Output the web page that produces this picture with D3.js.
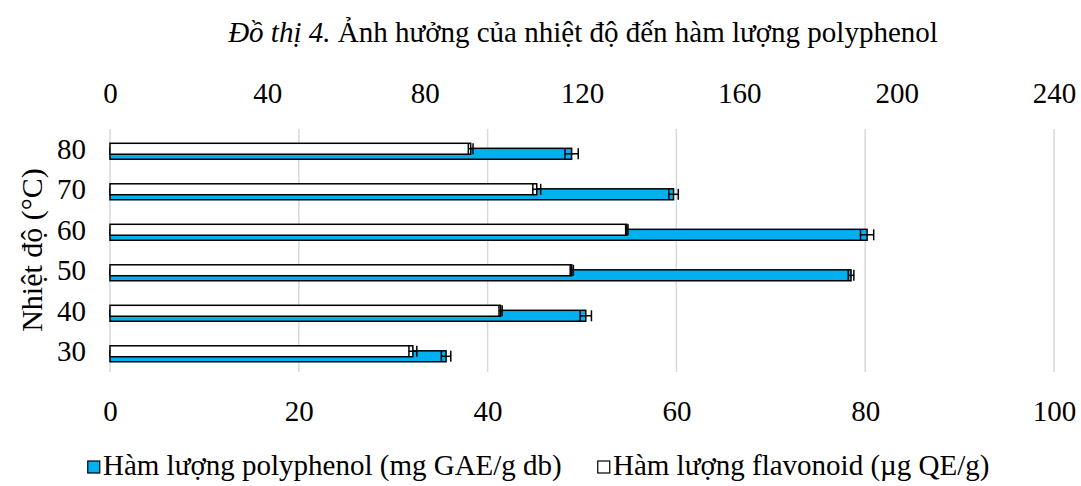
<!DOCTYPE html>
<html lang="vi">
<head>
<meta charset="UTF-8">
<title>Đồ thị 4</title>
<script src="https://cdnjs.cloudflare.com/ajax/libs/d3/7.8.5/d3.min.js"></script>
<style>
    body { margin: 0; background: #fff; }
    svg { display: block; }
    .domain { display: none; }
</style>
</head>
<body>
<div id="chart"></div>
<script>
// category and values
const temps = ["30", "40", "50", "60", "70", "80"];
const polyphenol = [35.6, 50.4, 78.5, 80.2, 59.7, 48.9];   // mg GAE/g db, bottom axis
const polyErr = [0.5, 0.6, 0.3, 0.7, 0.5, 0.7];
const flavonoid = [77.0, 99.3, 117.4, 131.4, 108.5, 91.7];  // µg QE/g, top axis
const flavErr = [1.0, 0.4, 0.4, 0.3, 1.0, 0.6];
const bottomTicks = [0, 20, 40, 60, 80, 100];
const topTicks = [0, 40, 80, 120, 160, 200, 240];

const W = 1081, H = 486;
const plot = { left: 110, right: 1054, top: 129, bottom: 372 };
const serif = '"Liberation Serif", "Times New Roman", serif';

const svg = d3.select("#chart").append("svg")
    .attr("width", W).attr("height", H);

svg.append("rect").attr("width", W).attr("height", H).attr("fill", "#fff");

const xBottom = d3.scaleLinear().domain([0, 100]).range([plot.left, plot.right]);
const xTop = d3.scaleLinear().domain([0, 240]).range([plot.left, plot.right]);
const y = d3.scaleBand().domain(temps.slice().reverse()).range([plot.top, plot.bottom]);
const bw = y.bandwidth();

// gridlines
svg.append("g").selectAll("line").data(bottomTicks).join("line")
    .attr("x1", d => xBottom(d)).attr("x2", d => xBottom(d))
    .attr("y1", plot.top).attr("y2", plot.bottom)
    .attr("stroke", "#d9d9d9").attr("stroke-width", 1.5);

// axes (labels only)
svg.append("g")
    .attr("transform", `translate(0,421)`)
    .call(d3.axisBottom(xBottom).tickValues(bottomTicks).tickSize(0).tickPadding(0))
    .call(g => g.selectAll(".tick text").attr("dy", 0).attr("y", 0));

svg.append("g")
    .attr("transform", `translate(0,103)`)
    .call(d3.axisTop(xTop).tickValues(topTicks).tickSize(0).tickPadding(0))
    .call(g => g.selectAll(".tick text").attr("dy", 0).attr("y", 0));

svg.append("g")
    .attr("transform", `translate(${plot.left - 24},0)`)
    .call(d3.axisLeft(y).tickSize(0).tickPadding(0));

svg.selectAll(".tick text")
    .style("font-family", serif).style("font-size", "29px").style("fill", "#000");

// bars
const rows = temps.map((t, i) => ({
    t, p: polyphenol[i], pe: polyErr[i], f: flavonoid[i], fe: flavErr[i]
}));

const blueTop = 0.477 * bw, whiteTop = 0.353 * bw, barH = 0.27 * bw;

svg.append("g").selectAll("rect").data(rows).join("rect")
    .attr("x", plot.left).attr("y", d => y(d.t) + blueTop)
    .attr("width", d => xBottom(d.p) - plot.left).attr("height", barH)
    .attr("fill", "#00b0f0").attr("stroke", "#000").attr("stroke-width", 1.5);

svg.append("g").selectAll("rect").data(rows).join("rect")
    .attr("x", plot.left).attr("y", d => y(d.t) + whiteTop)
    .attr("width", d => xTop(d.f) - plot.left).attr("height", barH)
    .attr("fill", "#fff").attr("stroke", "#000").attr("stroke-width", 1.5);

// error bars
function errBars(sel, scale, val, err, top) {
    const g = sel.append("g").attr("stroke", "#000").attr("stroke-width", 1.5);
    rows.forEach(d => {
        const cy = y(d.t) + top + barH / 2;
        const x0 = scale(val(d) - err(d)), x1 = scale(val(d) + err(d));
        g.append("line").attr("x1", x0).attr("x2", x1).attr("y1", cy).attr("y2", cy);
        [x0, x1].forEach(x => g.append("line")
            .attr("x1", x).attr("x2", x)
            .attr("y1", cy - barH / 2).attr("y2", cy + barH / 2));
    });
}
errBars(svg, xBottom, d => d.p, d => d.pe, blueTop);
errBars(svg, xTop, d => d.f, d => d.fe, whiteTop);

// title
const title = svg.append("text")
    .attr("x", 583).attr("y", 42)
    .attr("text-anchor", "middle")
    .style("font-family", serif).style("font-size", "29px");
title.append("tspan").style("font-style", "italic").text("Đồ thị 4.");
title.append("tspan").text(" Ảnh hưởng của nhiệt độ đến hàm lượng polyphenol");

// y axis title
svg.append("text")
    .attr("transform", "translate(42,250) rotate(-90)")
    .attr("text-anchor", "middle")
    .style("font-family", serif).style("font-size", "30px")
    .text("Nhiệt độ (°C)");

// legend
const legend = [
    { label: "Hàm lượng polyphenol (mg GAE/g db)", fill: "#00b0f0", x: 87 },
    { label: "Hàm lượng flavonoid (µg QE/g)", fill: "#fff", x: 597 }
];
const lg = svg.append("g").selectAll("g").data(legend).join("g")
    .attr("transform", d => `translate(${d.x},466)`);
lg.append("rect")
    .attr("x", 0.75).attr("y", -5).attr("width", 12).attr("height", 12)
    .attr("fill", d => d.fill).attr("stroke", "#000").attr("stroke-width", 1.2);
lg.append("text")
    .attr("x", 16).attr("y", 9)
    .style("font-family", serif).style("font-size", "29px")
    .text(d => d.label);
</script>
</body>
</html>
